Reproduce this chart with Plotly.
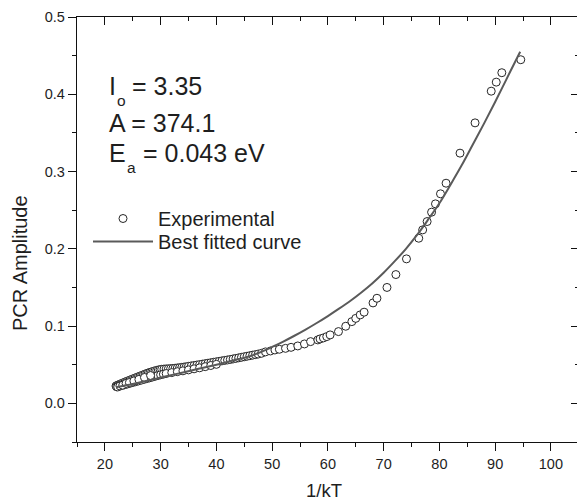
import plotly.graph_objects as go

# ---- data ----
exp_x = [22.0, 22.2, 22.4, 22.6, 22.8, 23.0, 23.3, 23.6, 23.9, 24.2, 24.5, 24.8, 25.1, 25.4,
         25.7, 26.0, 26.3, 26.6, 26.9, 27.2, 27.5, 27.8, 28.1, 28.4, 28.7, 29.0, 29.3, 29.6,
         29.9, 30.2, 30.6, 31.0, 31.4, 31.8, 32.2, 32.6, 33.0, 33.4, 33.8, 34.2, 34.6, 35.0,
         35.5, 36.0, 36.5, 37.0, 37.5, 38.0, 38.5, 39.0, 39.5, 40.0, 40.5, 41.0, 41.5, 42.0,
         42.5, 43.0, 43.5, 44.0, 44.5, 45.0, 45.5, 46.0, 46.5, 47.0, 47.5,
         22.1, 22.5, 23.0, 23.5, 24.0, 24.5, 25.0, 25.5, 26.0, 26.5, 27.0, 27.5, 28.0, 28.5,
         29.0, 29.5, 30.0, 30.5, 31.0, 32.0, 33.0, 34.0, 35.0, 36.0, 37.0, 38.0, 39.0, 40.0,
         22.3, 22.7, 23.2, 23.8, 24.4, 25.2, 26.1, 27.1, 28.2,
         48.1, 48.8, 49.7, 50.5, 51.3, 52.4, 53.4, 54.6, 55.8, 56.9, 58.2, 58.6, 59.2, 59.8,
         60.4, 61.9, 63.2, 64.3, 65.0, 65.8, 66.5, 68.1, 68.8, 70.6, 72.2, 74.1, 76.3, 77.0,
         77.8, 78.6, 79.3, 80.2, 81.2, 83.7, 86.4, 89.3, 90.2, 91.2, 94.6]
exp_y = [0.0225, 0.0232, 0.0238, 0.0244, 0.0250, 0.0257, 0.0266, 0.0275, 0.0284, 0.0292,
         0.0301, 0.0310, 0.0318, 0.0327, 0.0335, 0.0344, 0.0352, 0.0361, 0.0369, 0.0378,
         0.0386, 0.0394, 0.0401, 0.0408, 0.0415, 0.0421, 0.0427, 0.0432, 0.0437, 0.0441,
         0.0444, 0.0446, 0.0448, 0.0450, 0.0452, 0.0455, 0.0458, 0.0462, 0.0466, 0.0470,
         0.0474, 0.0479, 0.0485, 0.0490, 0.0496, 0.0502, 0.0508, 0.0514, 0.0520, 0.0526,
         0.0532, 0.0538, 0.0544, 0.0550, 0.0556, 0.0562, 0.0568, 0.0575, 0.0582, 0.0589,
         0.0596, 0.0603, 0.0610, 0.0617, 0.0624, 0.0631, 0.0638,
         0.0215, 0.0222, 0.0230, 0.0240, 0.0250, 0.0260, 0.0270, 0.0280, 0.0290, 0.0300,
         0.0310, 0.0320, 0.0330, 0.0340, 0.0350, 0.0360, 0.0370, 0.0378, 0.0386, 0.0398,
         0.0410, 0.0421, 0.0433, 0.0447, 0.0460, 0.0475, 0.0490, 0.0505,
         0.0212, 0.0226, 0.0236, 0.0258, 0.0270, 0.0290, 0.0310, 0.0335, 0.0360,
         0.0648, 0.0666, 0.0678, 0.0691, 0.0700, 0.0712, 0.0725, 0.0743, 0.0769, 0.0799,
         0.0821, 0.0834, 0.0847, 0.0864, 0.0886, 0.0929, 0.0998, 0.1058, 0.1100, 0.1145,
         0.1180, 0.1300, 0.1360, 0.1500, 0.1667, 0.1870, 0.2137, 0.2245, 0.2353, 0.2474,
         0.2582, 0.2712, 0.2849, 0.3238, 0.3630, 0.4040, 0.4157, 0.4279, 0.4447]

fit_x = [22, 25, 28, 31, 34, 37, 40, 43, 46, 48, 50, 52, 54, 56, 58, 60, 62, 64, 66, 68,
         70, 72, 74, 76, 78, 80, 82, 84, 86, 88, 90, 92, 94, 94.5]
fit_y = [0.021, 0.025, 0.030, 0.035, 0.040, 0.045, 0.050, 0.0555, 0.061, 0.0665, 0.073,
         0.080, 0.0875, 0.0955, 0.104, 0.113, 0.1225, 0.1325, 0.1435, 0.1555, 0.169, 0.184,
         0.200, 0.218, 0.238, 0.259, 0.283, 0.308, 0.335, 0.362, 0.390, 0.419, 0.448, 0.455]

x_ticks = [20, 30, 40, 50, 60, 70, 80, 90, 100]
x_minor = [15, 25, 35, 45, 55, 65, 75, 85, 95]
y_ticks = [0.0, 0.1, 0.2, 0.3, 0.4, 0.5]
y_minor = [-0.05, 0.05, 0.15, 0.25, 0.35, 0.45]

# ---- layout geometry ----
W, H = 577, 503
ML, MR, MT, MB = 77, 0, 17, 61
PW, PH = W - ML - MR, H - MT - MB
X_RANGE = [15, 15 + PW / 5.575]
Y_RANGE = [-0.05, 0.5]
FONT = "Liberation Sans, Arial, sans-serif"
TXT = "#1e1e1e"
AX = "#111111"


def px_x(p):
    return (p - ML) / PW


def px_y(p):
    return (H - MB - p) / PH


fig = go.Figure()
fig.add_trace(go.Scatter(
    x=exp_x, y=exp_y, mode="markers", name="Experimental", legend="legend",
    marker=dict(symbol="circle", size=8, color="white",
                line=dict(color="#262626", width=1)),
))
fig.add_trace(go.Scatter(
    x=fit_x, y=fit_y, mode="lines", name="Best fitted curve", legend="legend2",
    line=dict(color="#5a5a5a", width=2, shape="spline", smoothing=1.0),
))
# empty helper trace so the mirrored tick axes are drawn
fig.add_trace(go.Scatter(x=[], y=[], xaxis="x2", yaxis="y2", showlegend=False))

tickfont = dict(family=FONT, size=14.5, color=TXT)
legfont = dict(family=FONT, size=20, color=TXT)
fig.update_layout(
    width=W, height=H,
    margin=dict(l=ML, r=MR, t=MT, b=MB, pad=0),
    paper_bgcolor="white", plot_bgcolor="white",
    showlegend=True,
    legend=dict(x=px_x(88), y=px_y(199), xanchor="left", yanchor="top",
                bgcolor="rgba(0,0,0,0)", borderwidth=0, itemwidth=60, font=legfont),
    legend2=dict(x=px_x(88), y=px_y(222), xanchor="left", yanchor="top",
                 bgcolor="rgba(0,0,0,0)", borderwidth=0, itemwidth=60, font=legfont),
    xaxis=dict(range=X_RANGE, tickvals=x_ticks, ticks="outside", ticklen=8, tickwidth=1.2,
               tickcolor=AX, showline=True, linecolor=AX, linewidth=1.3,
               showgrid=False, zeroline=False, tickfont=tickfont,
               minor=dict(tickvals=x_minor, ticks="outside",
                          ticklen=4, tickwidth=1.2, tickcolor=AX)),
    yaxis=dict(range=Y_RANGE, tickvals=y_ticks, tickformat=".1f", ticks="outside", ticklen=8,
               tickwidth=1.2, tickcolor=AX, showline=True, linecolor=AX,
               linewidth=1.3, showgrid=False, zeroline=False, tickfont=tickfont,
               minor=dict(tickvals=y_minor, ticks="outside",
                          ticklen=4, tickwidth=1.2, tickcolor=AX)),
    xaxis2=dict(range=X_RANGE, overlaying="x", side="top", anchor="y", tickvals=x_ticks,
                ticks="inside", ticklen=8, tickwidth=1.2, tickcolor=AX,
                showticklabels=False, showline=True, linecolor=AX, linewidth=1.3,
                showgrid=False, zeroline=False,
                minor=dict(tickvals=x_minor, ticks="inside",
                           ticklen=4, tickwidth=1.2, tickcolor=AX)),
    yaxis2=dict(range=Y_RANGE, overlaying="y", side="right", anchor="x", tickvals=y_ticks,
                ticks="inside", ticklen=6, tickwidth=1.2, tickcolor=AX,
                showticklabels=False, showline=False, showgrid=False, zeroline=False,
                minor=dict(tickvals=y_minor, ticks="inside",
                           ticklen=2, tickwidth=1.2, tickcolor=AX)),
)

big = dict(family=FONT, size=25, color=TXT)
small = dict(family=FONT, size=15.5, color=TXT)
pieces = [
    ("I", 107, 86, big),
    ("o", 115, 100, small),
    ("= 3.35", 130, 86, big),
    ("A = 374.1", 107, 123, big),
    ("E", 107, 153, big),
    ("a", 125, 167.5, small),
    ("= 0.043 eV", 141, 153, big),
]
for text, px, py, f in pieces:
    fig.add_annotation(text=text, xref="paper", yref="paper", x=px_x(px), y=px_y(py),
                       xanchor="left", yanchor="middle", showarrow=False, font=f)

fig.add_annotation(text="1/kT", xref="paper", yref="paper", x=px_x(324), y=px_y(490.5),
                   xanchor="center", yanchor="middle", showarrow=False,
                   font=dict(family=FONT, size=18.5, color=TXT))
fig.add_annotation(text="PCR Amplitude", xref="paper", yref="paper", x=px_x(20), y=px_y(263),
                   xanchor="center", yanchor="middle", textangle=-90, showarrow=False,
                   font=dict(family=FONT, size=20, color=TXT))

fig.write_html("out.html")
